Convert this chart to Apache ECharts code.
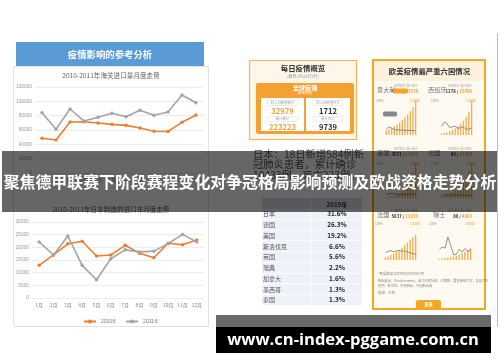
<!DOCTYPE html>
<html><head><meta charset="utf-8">
<script src="https://cdn.jsdelivr.net/npm/echarts@6/dist/echarts.min.js"></script>
<style>html,body{margin:0;padding:0;background:#fff}#c{width:500px;height:362px}</style>
</head><body><div id="c"></div><script>
// ---------- data ----------
const months = ['1月','2月','3月','4月','5月','6月','7月','8月','9月','10月','11月','12月'];
const seriesNames = ['2010年','2011年'];
const customs2010 = [48400,46000,71200,71600,69800,67900,66500,62800,58200,58000,70700,80900];
const customs2011 = [84100,61000,89300,72500,77700,83300,78600,87500,80500,85100,108800,98100];
const japan2010 = [12900,17000,21400,22400,16600,17000,20800,17700,15900,21600,21000,22900];
const japan2011 = [22100,17000,24500,12900,7200,15500,19000,18200,18500,21400,25100,22100];

const tableHeader = '2019年';
const tableCountries = ['日本','德国','美国','斯洛伐克','英国','瑞典','加拿大','墨西哥','泰国'];
const tableShares = ['31.6%','26.3%','19.2%','6.6%','5.6%','2.2%','1.6%','1.3%','1.3%'];

const overviewLabels = ['较上日新增确诊','累计确诊','较上日新增死亡','累计死亡'];
const overviewValues = ['32979','223223','1712','9739'];

const sixNames = ['意大利','西班牙','美国','德国','法国','瑞士'];
const sixNew = ['4825','1278','3071','84','5637','80'];
const sixTotal = ['53578','25496','13951','12384','11039','4863'];
const miniDates = ['3/9','3/10','3/11','3/12','3/13','3/14','3/15','3/16','3/17','3/18','3/19','3/20'];
const italyBars = [14,17,21,26,31,37,44,52,61,70,82,100];
const italyLine = [18,24,20,16,15,15,14,14,13,14,13,12];
const spainBars = [4,6,8,11,15,20,26,33,42,53,68,100];
const spainLine = [26,38,34,22,24,26,20,21,24,16,18,20];
const usBars = [3,4,6,8,11,15,21,29,40,55,75,100];
const usLine = [10,12,14,12,11,10,12,11,10,11,12,10];
const germanyBars = [5,7,10,13,17,22,29,38,49,62,80,100];
const germanyLine = [8,9,10,9,8,9,8,9,8,7,8,7];
const franceBars = [8,10,14,18,23,28,34,41,48,56,63,70];
const franceLine = [20,24,26,23,25,27,24,26,22,20,18,16];
const switzBars = [3,4,5,6,7,9,12,15,19,23,27,32];
const switzLine = [30,36,33,64,40,14,16,30,22,32,24,28];

const bannerTitle = '聚焦德甲联赛下阶段赛程变化对争冠格局影响预测及欧战资格走势分析';
const bannerUrl = 'www.cn-index-pggame.com.cn';

// ---------- helpers ----------
const CJK = '"Noto Sans CJK SC", sans-serif';
const mctx = document.createElement('canvas').getContext('2d');
function fitSize(text, family, weight, targetW){
  mctx.font = weight + ' 100px ' + family;
  return 100 * targetW / mctx.measureText(text).width;
}
function R(x,y,w,h,fill,stroke,lw,z,r){return {type:'rect',z:z||1,shape:{x:x,y:y,width:w,height:h,r:r||0},style:{fill:fill,stroke:stroke||null,lineWidth:lw||0}};}
function T(s,x,y,size,color,weight,align,z,family){return {type:'text',z:z||5,style:{text:s,x:x,y:y,fontSize:size,fill:color,fontWeight:weight||'normal',align:align||'left',verticalAlign:'middle',fontFamily:family||CJK}};}

const el = [];
// left panel
el.push(R(16,42,188,24,'#5b9bd5',null,0,1));
el.push(T('疫情影响的参考分析',110,54,9.4,'#fff','bold','center',5));
el.push(R(13.5,66.5,195,260,'rgba(255,255,255,0)','#e2e2e2',1,1));
el.push(T('2010-2011年海关进口量月度走势',111,75,6.6,'#666','normal','center',5));
el.push(T('2010-2011年日本制造的进口车月度走势',111,209,6.6,'#666','normal','center',5));
// right vertical line
el.push({type:'line',z:1,shape:{x1:497.5,y1:33,x2:497.5,y2:327},style:{stroke:'#bdbdbd',lineWidth:1}});

// daily overview panel
el.push(R(249.5,60.5,107,79,'#fdf6e9','#f3b45c',1.2,1));
el.push(T('每日疫情概览',303,68,7.4,'#333','bold','center',5));
el.push(T('(截至3月20日7时)',303,76,4,'#999','normal','center',5));
el.push(R(256,83,98,51,'#f5a033',null,0,2,2));
el.push(T('全球疫情',305,87.5,6.2,'#fff','bold','center',5));
el.push(T('截至目前',305,92.5,3.6,'#fff','normal','center',5));
el.push(R(261,98,43,33,'#fff',null,0,3));
el.push(R(306,98,44,33,'#fff',null,0,3));
const ovX = [282.5,282.5,328,328], ovY = [103,119,103,119];
overviewLabels.forEach((s,i)=>{
  el.push(R(ovX[i]-15,ovY[i]-2.5,30,5,'#fff','#ddd',0.5,4));
  el.push(T(s,ovX[i],ovY[i],3.4,'#999','normal','center',5));
  el.push(T(overviewValues[i],ovX[i],ovY[i]+8.5,7.6,i<2?'#eaa43f':'#333','bold','center',5));
});

// Japan text
el.push(T('日本：18日新增584例新',253,154,10.3,'#555','normal','left',5));
el.push(T('冠肺炎患者，累计确诊',253,164.5,10.3,'#555','normal','left',5));
el.push(T('10433例，死亡223例。',253,175,10.3,'#555','normal','left',5));

// table
el.push(R(262,198,48,13,'#d9dee8',null,0,1));
el.push(R(311,198,51,13,'#d9dee8',null,0,1));
el.push(T(tableHeader,337,204.5,6.2,'#333','bold','center',5));
tableCountries.forEach((c,i)=>{
  const y = 214 + i*10.75;
  el.push(R(262,y-5,48,10,'#eef1f7',null,0,1));
  el.push(R(311,y-5,51,10,'#eef1f7',null,0,1));
  el.push(T(c,263,y,6,'#555','normal','left',5));
  el.push(T(tableShares[i],337,y,6.4,'#222','bold','center',5));
});

// six-country panel
el.push(R(373,60,112,249,'#fffaf1','#f5a623',2,1));
el.push(R(374,61,110,20,'#fdf1dc',null,0,1));
el.push(T('欧美疫情最严重六国情况',429.5,71,7.4,'#333','bold','center',5));
const nameX=[377,428,377,428,377,433], rowY=[90,90,153,153,215,215];
sixNames.forEach((n,i)=>{
  const y=rowY[i], x=nameX[i];
  el.push(T(n,x,y,6.2,'#777','normal','left',5));
  const nx = (i%2===0)?418:472;
  el.push(T('新增确诊 累计确诊',nx,y-4.5,2.9,'#aaa','normal','right',5));
  el.push({type:'text',z:5,style:{rich:{a:{fontSize:4.3,fill:'#333',fontWeight:'bold',fontFamily:CJK},b:{fontSize:4.3,fill:'#f0a330',fontWeight:'bold',fontFamily:CJK}},text:'{a|'+sixNew[i]+' / }{b|'+sixTotal[i]+'}',x:nx,y:y+1,align:'right',verticalAlign:'middle'}});
});
const miniPos = [[385,101,32,34],[440,101,33,34],[385,164,32,34],[440,164,33,34],[384,224,33,36],[438,224,34,36]];
miniPos.forEach(p=>{
  el.push(T('100%',p[0]-9,p[1],3,'#999','normal','left',5));
  el.push(T('100000',p[0]+p[2]+3,p[1],3,'#f0a330','normal','right',5));
});
// bubbles in Italy chart
el.push(R(393,88.5,15,5,'#f5a623',null,0,6,1.5));
el.push(R(383,111.5,14,5,'#888',null,0,6,1.5));
// notes
el.push(T('*数据截至北京时间3月20日7时',378,274,3.4,'#888','normal','left',5));
el.push(T('数据来源：Worldometers、意大利民防部、约翰斯·霍普金斯大学、各国卫生',378,281,3.2,'#888','normal','left',5));
el.push(T('机构、新华社、央视新闻、中国新闻网',378,286,3.2,'#888','normal','left',5));
el.push(T('编辑：王悦',378,293,3.4,'#888','normal','left',5));
el.push(R(416,300,25,9,'#f5a623',null,0,3,[2,2,0,0]));
el.push(T('更多',428.5,304.5,4.3,'#fff','bold','center',5));

// banner
el.push(R(2,151,495,61,'rgba(0,0,0,0.6)',null,0,100));
const titleSize = Math.min(19, fitSize(bannerTitle, CJK, 'bold', 493));
el.push(T(bannerTitle,250,182,titleSize,'#fff','bold','center',101));
// bottom url
el.push(R(216,315,275,12,'#6a6a6a',null,0,100));
el.push(R(216,327,275,26,'#000',null,0,100));
const urlSize = fitSize(bannerUrl, '"Open Sans", sans-serif', 'bold', 252);
el.push(T(bannerUrl,353,340,urlSize,'#fff','bold','center',101,'"Open Sans", sans-serif'));

// ---------- axes / series ----------
const grids = [
  {left:35,top:87,width:168,height:86},
  {left:32,top:222,width:172,height:76}
];
const xAxes = [], yAxes = [], series = [];
const lineAxisX = (gi)=>({type:'category',gridIndex:gi,data:months,axisTick:{show:false},axisLine:{show:false},axisLabel:{interval:0,fontSize:5,color:'#888',margin:5,fontFamily:CJK}});
xAxes.push(lineAxisX(0)); xAxes.push(lineAxisX(1));
const plain = v=>String(v);
yAxes.push({type:'value',gridIndex:0,min:0,max:120000,interval:20000,axisLabel:{fontSize:4.8,color:'#999',margin:3,formatter:plain},splitLine:{lineStyle:{color:'#e8e8e8',width:0.8}}});
yAxes.push({type:'value',gridIndex:1,min:0,max:30000,interval:5000,axisLabel:{fontSize:4.8,color:'#999',margin:3,formatter:plain},splitLine:{lineStyle:{color:'#e8e8e8',width:0.8}}});
const lineSeries=(name,data,idx,color)=>({type:'line',name:name,data:data,xAxisIndex:idx,yAxisIndex:idx,symbol:'circle',symbolSize:3.5,itemStyle:{color:color},lineStyle:{color:color,width:1.6},z:3});
series.push(lineSeries(seriesNames[0],customs2010,0,'#ed7d31'));
series.push(lineSeries(seriesNames[1],customs2011,0,'#a5a5a5'));
series.push(lineSeries(seriesNames[0],japan2010,1,'#ed7d31'));
series.push(lineSeries(seriesNames[1],japan2011,1,'#a5a5a5'));

const miniBars=[italyBars,spainBars,usBars,germanyBars,franceBars,switzBars];
const miniLines=[italyLine,spainLine,usLine,germanyLine,franceLine,switzLine];
miniPos.forEach((p,i)=>{
  const gi = grids.length;
  grids.push({left:p[0],top:p[1],width:p[2],height:p[3]});
  xAxes.push({type:'category',gridIndex:gi,data:miniDates,axisTick:{show:false},axisLine:{lineStyle:{color:'#ccc',width:0.5}},
    axisLabel:{interval:0,fontSize:3.2,color:'#999',margin:2,formatter:(v,k)=>(k===0||k===miniDates.length-1)?v:''}});
  yAxes.push({type:'value',gridIndex:gi,min:0,max:100,interval:100,axisLabel:{show:false},splitLine:{lineStyle:{color:'#f3d6a8',width:0.5,type:'dashed'}}});
  series.push({type:'bar',data:miniBars[i],xAxisIndex:gi,yAxisIndex:gi,barWidth:'50%',itemStyle:{color:'#f2b04f'},z:3});
  series.push({type:'line',data:miniLines[i],xAxisIndex:gi,yAxisIndex:gi,symbol:'none',lineStyle:{color:'#777',width:0.8},z:4});
});

const chart = echarts.init(document.getElementById('c'),null,{renderer:'canvas'});
chart.setOption({
  animation:false,
  backgroundColor:'#fff',
  grid:grids, xAxis:xAxes, yAxis:yAxes, series:series,
  legend:{data:seriesNames,left:78,top:314,itemWidth:12,itemHeight:5,itemGap:8,textStyle:{fontSize:5,color:'#777'}},
  graphic:{elements:el}
});
</script></body></html>
